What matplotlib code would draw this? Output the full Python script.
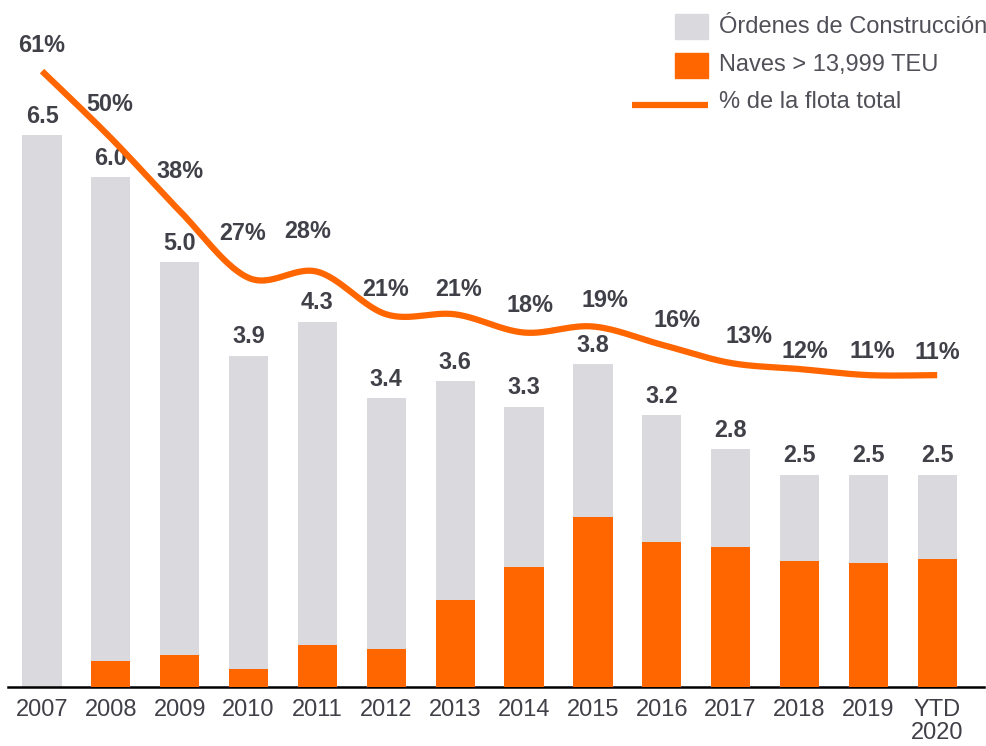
import numpy as np
import matplotlib
matplotlib.use('Agg')
import matplotlib.pyplot as plt
from matplotlib.patches import Rectangle
from matplotlib.lines import Line2D

years = ['2007', '2008', '2009', '2010', '2011', '2012', '2013',
         '2014', '2015', '2016', '2017', '2018', '2019', 'YTD\n2020']
orderbook = [6.5, 6.0, 5.0, 3.9, 4.3, 3.4, 3.6, 3.3, 3.8, 3.2, 2.8, 2.5, 2.5, 2.5]
big_ships = [0.0, 0.31, 0.38, 0.21, 0.49, 0.45, 1.02, 1.41, 2.0, 1.71, 1.65, 1.48, 1.46, 1.51]
fleet_pct = [61, 50, 38, 27, 28, 21, 21, 18, 19, 16, 13, 12, 11, 11]

GRAY = '#d9d9de'
ORANGE = '#ff6600'
TEXT = '#404048'
LEGEND_TEXT = '#505058'

# label nudges (pixels) so the percentages sit where they do in the source
pct_dx = [0, -1, 0, -6, -10, -1, 3, 6, 12, 15, 18, 5, 4, 0]
pct_dy = [26, 34, 39, 44, 40, 25, 25, 27, 26, 24, 26, 18, 24, 23]

plt.rcParams['font.family'] = ['Liberation Sans', 'DejaVu Sans']


def _catmull_rom(xs, ys, n_per_seg=30):
    pts = np.column_stack([xs, ys]).astype(float)
    pts = np.vstack([pts[0], pts, pts[-1]])
    out = []
    t = np.linspace(0, 1, n_per_seg, endpoint=False)[:, None]
    for i in range(1, len(pts) - 2):
        p0, p1, p2, p3 = pts[i - 1], pts[i], pts[i + 1], pts[i + 2]
        seg = 0.5 * ((2 * p1) + (-p0 + p2) * t
                     + (2 * p0 - 5 * p1 + 4 * p2 - p3) * t ** 2
                     + (-p0 + 3 * p1 - 3 * p2 + p3) * t ** 3)
        out.append(seg)
    out.append(pts[-2][None, :])
    out = np.vstack(out)
    return out[:, 0], out[:, 1]


fig = plt.figure(figsize=(9.87, 7.46), dpi=100)
ax = fig.add_axes([8 / 987, 59 / 746, 976 / 987, 687 / 746])
x = np.arange(len(years))

ax.bar(x, orderbook, width=0.57, color=GRAY, zorder=2)
ax.bar(x, big_ships, width=0.57, color=ORANGE, zorder=3)

for xi, val in zip(x, orderbook):
    ax.annotate(f'{val:.1f}', (xi, val), xytext=(0, 19), textcoords='offset pixels',
                ha='center', va='center', fontsize=16.8, fontweight='bold', color=TEXT)

ax.set_xlim(-0.494, 13.68)
ax.set_ylim(0, 8.09)
ax.set_xticks(x)
ax.set_xticklabels(years, fontsize=17, color=TEXT, linespacing=1.02)
ax.tick_params(axis='x', length=0, pad=9)
ax.set_yticks([])
for side in ['top', 'right', 'left']:
    ax.spines[side].set_visible(False)
ax.spines['bottom'].set_linewidth(1.8)
ax.spines['bottom'].set_color('black')

ax2 = ax.twinx()
ax2.set_ylim(-40.3, 72.7)
ax2.axis('off')
sx, sy = _catmull_rom(x, fleet_pct)
ax2.plot(sx, sy, color=ORANGE, linewidth=4.5, solid_capstyle='butt', zorder=4)
for xi, p, dx, dy in zip(x, fleet_pct, pct_dx, pct_dy):
    ax2.annotate(f'{p}%', (xi, p), xytext=(dx, dy), textcoords='offset pixels',
                 ha='center', va='center', fontsize=16.8, fontweight='bold', color=TEXT)

# legend drawn by hand in figure pixels
W, H = 987, 746
fig.patches.append(Rectangle((675 / W, 1 - 39 / H), 33 / W, 25 / H,
                             transform=fig.transFigure, color=GRAY))
fig.patches.append(Rectangle((675 / W, 1 - 78 / H), 33 / W, 25 / H,
                             transform=fig.transFigure, color=ORANGE))
fig.lines.append(Line2D([632 / W, 708 / W], [1 - 105 / H, 1 - 105 / H],
                        transform=fig.transFigure, color=ORANGE, linewidth=4.5,
                        solid_capstyle='butt'))
for label, ypix in [('Órdenes de Construcción', 27), ('Naves > 13,999 TEU', 65),
                    ('% de la flota total', 102)]:
    fig.text(719 / W, 1 - ypix / H, label, fontsize=17, color=LEGEND_TEXT,
             ha='left', va='center')

fig.savefig('out.png', dpi=100)
